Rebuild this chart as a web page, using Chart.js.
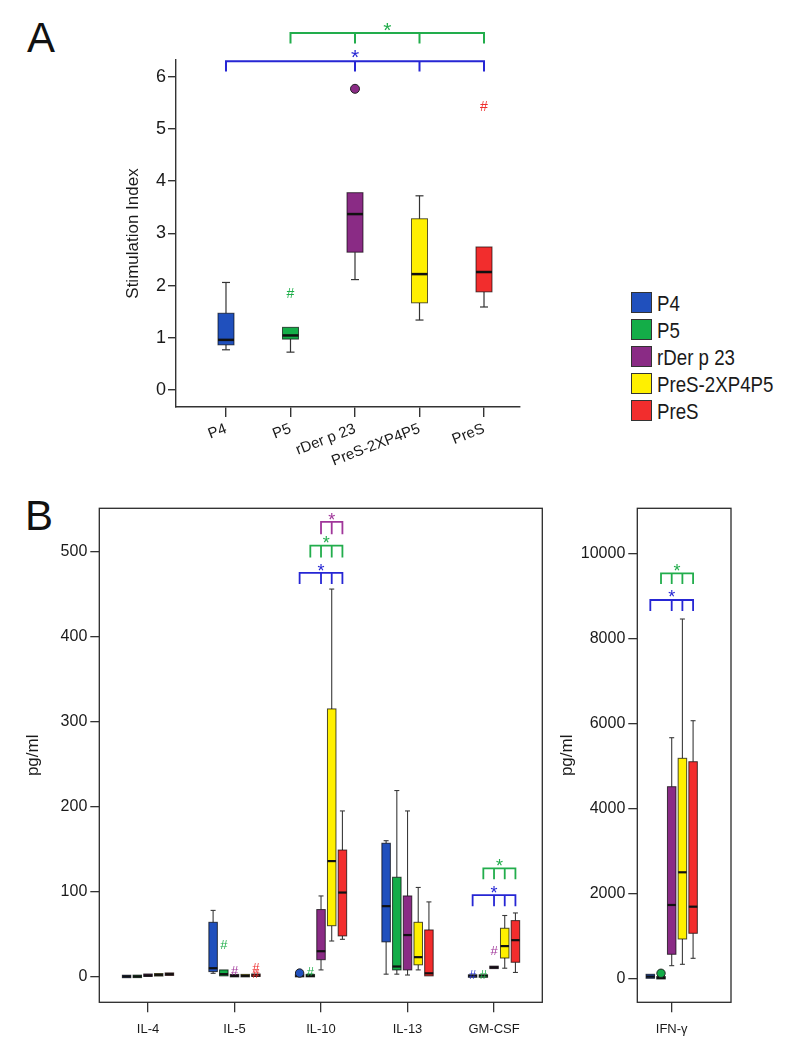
<!DOCTYPE html>
<html><head><meta charset="utf-8">
<script src="https://cdn.jsdelivr.net/npm/chart.js@4.4.1/dist/chart.umd.min.js"></script>
<style>
body{margin:0;background:#fff;width:787px;height:1050px;position:relative;overflow:hidden;font-family:'Liberation Sans',Arial,sans-serif;color:#1a1a1a}
canvas{position:absolute}
.lbl{position:absolute;font-size:42px;line-height:42px;color:#111}
.sw{position:absolute;width:19px;height:19px;border:1px solid #333}
.lt{position:absolute;font-size:22px;line-height:22px;transform:scaleX(0.85);transform-origin:0 0;white-space:nowrap;color:#1a1a1a}
</style></head><body>
<div class="lbl" style="left:27px;top:17px">A</div>
<div class="lbl" style="left:25px;top:495px">B</div>
<canvas id="cA" width="560" height="470" style="left:0;top:0"></canvas>
<canvas id="cB" width="550" height="570" style="left:0;top:480px"></canvas>
<canvas id="cC" width="237" height="570" style="left:550px;top:480px"></canvas>
<div id="legend"></div>
<script>
// ---------- DATA ----------
const series = ['P4', 'P5', 'rDer p 23', 'PreS-2XP4P5', 'PreS'];

// Panel A: Stimulation Index, one box per stimulus
const siMin = [0.77, 0.725, 2.115, 1.34, 1.59];
const siQ1  = [0.865, 0.975, 2.64, 1.67, 1.88];
const siMed = [0.96, 1.045, 3.37, 2.22, 2.26];
const siQ3  = [1.47, 1.2, 3.78, 3.28, 2.74];
const siMax = [2.06, 1.2, 3.78, 3.72, 2.74];
const siTicks = [0, 1, 2, 3, 4, 5, 6];
const siCircles = [{s: 2, v: 5.77}];
const siHashes = [{s: 1, v: 1.85}, {s: 4, v: 5.44}];
// significance brackets: sig = reference series, s = series joined
const siBrackets = [
  {sig: 0, s: [0, 2, 3, 4], y: 6.30, foot: 6.10, star: 6.475},
  {sig: 1, s: [1, 2, 3, 4], y: 6.84, foot: 6.64, star: 7.0}
];

// Panel B: cytokines, [min, q1, median, q3, max] per cytokine
const cytokines = ['IL-4', 'IL-5', 'IL-10', 'IL-13', 'GM-CSF'];
const cytoTicks = [0, 100, 200, 300, 400, 500];
const cytoP4     = [[0,0,0.3,0.6,0.6], [4,6,10,64,78], [0,0.5,1,2,2], [3,41,83,157,160], [0,0,1,1.5,2]];
const cytoP5     = [[0,0,0.3,0.8,0.8], [0,1,3,8,8], [0,0.5,1,2,2], [3,8,12,117,219], [0,0,1,1.5,2]];
const cytoRDer   = [[0.5,1,1.5,2.5,3], [0,0.5,1,2,2], [8,20,30,79,95], [2,8,49,95,195], [9,10,11,12,13]];
const cytoPreS2X = [[1,1.5,2.2,3,3.5], [0,0.5,1,2,2], [42,60,136,315,456], [8,14,23,64,105], [10,22,36,57,72]];
const cytoPreS   = [[1.5,2,3,4,5], [0,0.5,1.5,3,3], [44,48,99,149,195], [0,1,4,55,88], [5,17,43,66,75]];
const cytoCircles = [{g: 2, s: 0, v: 4.3}];
const cytoHashes = [
  {g: 1, s: 1, v: 38}, {g: 1, s: 2, v: 7}, {g: 1, s: 4, v: 11}, {g: 1, s: 4, v: 4},
  {g: 2, s: 1, v: 6}, {g: 4, s: 0, v: 3}, {g: 4, s: 1, v: 3}, {g: 4, s: 2, v: 31}
];
const cytoBrackets = [
  {g: 2, sig: 0, s: [0, 2, 3, 4], y: 475, foot: 462, star: 482},
  {g: 2, sig: 1, s: [1, 2, 3, 4], y: 507, foot: 493, star: 515},
  {g: 2, sig: 2, s: [2, 3, 4], y: 535, foot: 520.5, star: 542},
  {g: 4, sig: 1, s: [1, 2, 3, 4], y: 127.5, foot: 114.6, star: 136},
  {g: 4, sig: 0, s: [0, 2, 3, 4], y: 96, foot: 83, star: 104}
];

// Panel B right: IFN-gamma
const ifnLabels = ['IFN-γ'];
const ifnTicks = [0, 2000, 4000, 6000, 8000, 10000];
const ifnP4     = [[0,0,40,94,94]];
const ifnP5     = [[0,0,10,25,25]];
const ifnRDer   = [[297,565,1725,4508,5661]];
const ifnPreS2X = [[329,925,2494,5176,8454]];
const ifnPreS   = [[470,1059,1685,5096,6061]];
const ifnCircles = [{g: 0, s: 1, v: 118}];
const ifnHashes = [];
const ifnBrackets = [
  {g: 0, sig: 0, s: [0, 2, 3, 4], y: 8901, foot: 8642, star: 9073},
  {g: 0, sig: 1, s: [1, 2, 3, 4], y: 9529, foot: 9278, star: 9685}
];

// ---------- STYLE ----------
const boxColors  = ['#2050bd', '#14ad48', '#8a2b85', '#fff000', '#f22d2d'];
const markColors = ['#2a34d2', '#1fae4a', '#a0369a', '#d8c800', '#ee2e2e'];
const sigColors  = ['#2626d4', '#22ad4c', '#a0369a'];
const FONT = "'Liberation Sans', Arial, sans-serif";
Chart.defaults.font.family = FONT;
Chart.defaults.color = '#1a1a1a';

// legend
(function(){
  const L = document.getElementById('legend');
  series.forEach((name, i) => {
    const top = 292 + i * 27;
    const sw = document.createElement('div');
    sw.className = 'sw'; sw.style.left = '631px'; sw.style.top = top + 'px';
    sw.style.background = boxColors[i];
    L.appendChild(sw);
    const t = document.createElement('div');
    t.className = 'lt'; t.style.left = '657px'; t.style.top = (top + 0.5) + 'px';
    t.textContent = name;
    L.appendChild(t);
  });
})();

function makePlugin(cfg) {
  return {
    id: 'boxplot',
    beforeDatasetsDraw(chart) {
      const {ctx, scales: {x, y}} = chart;
      const seg = (a, b, c, d) => { ctx.beginPath(); ctx.moveTo(a, b); ctx.lineTo(c, d); ctx.stroke(); };
      chart.data.datasets.forEach(ds => {
        if (ds.kind !== 'box') return;
        ds.data.forEach(p => {
          const cx = x.getPixelForValue(p.x);
          const yMin = y.getPixelForValue(p.min), yQ1 = y.getPixelForValue(p.q1);
          const yMed = y.getPixelForValue(p.y), yQ3 = y.getPixelForValue(p.q3), yMax = y.getPixelForValue(p.max);
          ctx.save();
          ctx.strokeStyle = cfg.whisker; ctx.lineWidth = cfg.whiskerWidth;
          if (yMax < yQ3 - 1) { seg(cx, yMax, cx, yQ3); seg(cx - cfg.cap / 2, yMax, cx + cfg.cap / 2, yMax); }
          if (yMin > yQ1 + 1) { seg(cx, yQ1, cx, yMin); seg(cx - cfg.cap / 2, yMin, cx + cfg.cap / 2, yMin); }
          let top = yQ3, h = yQ1 - yQ3;
          if (h < cfg.minH) { const c = (yQ1 + yQ3) / 2; top = c - cfg.minH / 2; h = cfg.minH; }
          const w = cfg.boxWidth;
          ctx.fillStyle = ds.boxColor;
          ctx.fillRect(cx - w / 2, top, w, h);
          ctx.strokeStyle = cfg.edge; ctx.lineWidth = 1;
          ctx.strokeRect(cx - w / 2, top, w, h);
          ctx.strokeStyle = '#111'; ctx.lineWidth = cfg.medianWidth;
          seg(cx - w / 2, yMed, cx + w / 2, yMed);
          ctx.restore();
        });
      });
    },
    afterDatasetsDraw(chart) {
      const {ctx, scales: {x, y}, chartArea} = chart;
      ctx.save();
      // hash outliers
      chart.data.datasets.forEach(ds => {
        if (ds.kind !== 'hash') return;
        ctx.font = cfg.hashSize + 'px ' + FONT;
        ctx.textAlign = 'center'; ctx.textBaseline = 'alphabetic';
        ctx.fillStyle = ds.markColor;
        ds.data.forEach(p => ctx.fillText('#', x.getPixelForValue(p.x), y.getPixelForValue(p.y) + cfg.hashSize * 0.35));
      });
      // significance brackets
      cfg.brackets.forEach(b => {
        const xs = b.s.map(s => x.getPixelForValue(cfg.pos(b.g || 0, s)));
        const yl = y.getPixelForValue(b.y), yf = y.getPixelForValue(b.foot);
        const col = sigColors[b.sig];
        ctx.strokeStyle = col; ctx.lineWidth = cfg.bracketWidth; ctx.lineCap = 'butt';
        ctx.beginPath();
        ctx.moveTo(xs[0], yf); ctx.lineTo(xs[0], yl); ctx.lineTo(xs[xs.length - 1], yl); ctx.lineTo(xs[xs.length - 1], yf);
        for (let i = 1; i < xs.length - 1; i++) { ctx.moveTo(xs[i], yl); ctx.lineTo(xs[i], yf); }
        ctx.stroke();
        ctx.fillStyle = col;
        ctx.font = cfg.starSize + 'px ' + FONT;
        ctx.textAlign = 'center'; ctx.textBaseline = 'alphabetic';
        ctx.fillText('*', (xs[0] + xs[xs.length - 1]) / 2, y.getPixelForValue(b.star) + cfg.starSize * 0.58);
      });
      if (cfg.frame) {
        ctx.strokeStyle = '#2a2a2a'; ctx.lineWidth = 1.3;
        ctx.strokeRect(chartArea.left, chartArea.top, chartArea.right - chartArea.left, chartArea.bottom - chartArea.top);
      }
      ctx.restore();
    }
  };
}

function boxPoint(x, st) { return {x: x, y: st[2], min: st[0], q1: st[1], q3: st[3], max: st[4]}; }

const baseOpts = {
  responsive: false, animation: false, events: [],
  plugins: {legend: {display: false}, tooltip: {enabled: false}}
};

// ---------- PANEL A ----------
(function(){
  const pos = (g, s) => s + 1;
  const datasets = series.map((name, i) => ({
    label: name, kind: 'box', boxColor: boxColors[i], pointRadius: 0,
    data: [boxPoint(i + 1, [siMin[i], siQ1[i], siMed[i], siQ3[i], siMax[i]])]
  }));
  datasets.push({label: 'circles', kind: 'circle', data: siCircles.map(o => ({x: pos(0, o.s), y: o.v})),
    pointRadius: 4.5, pointBackgroundColor: siCircles.map(o => boxColors[o.s]), pointBorderColor: '#222', pointBorderWidth: 1});
  series.forEach((name, i) => {
    const h = siHashes.filter(o => o.s === i);
    if (h.length) datasets.push({label: 'hash ' + name, kind: 'hash', markColor: markColors[i], pointRadius: 0,
      data: h.map(o => ({x: pos(0, o.s), y: o.v}))});
  });
  new Chart(document.getElementById('cA'), {
    type: 'scatter',
    data: {datasets},
    options: Object.assign({}, baseOpts, {
      layout: {padding: {left: 123, top: 60, right: 40, bottom: 0}},
      scales: {
        x: {type: 'linear', min: 0.225, max: 5.558,
          afterBuildTicks: s => { s.ticks = series.map((_, i) => ({value: i + 1})); },
          afterFit: s => { s.height = 63; },
          grid: {drawOnChartArea: false, drawTicks: true, tickLength: 10, color: '#333', lineWidth: 1.4},
          border: {display: true, color: '#333', width: 1.4},
          ticks: {autoSkip: false, minRotation: 21, maxRotation: 21, padding: 3, color: '#1a1a1a', font: {size: 15},
            callback: (v, i) => series[i]}
        },
        y: {type: 'linear', min: -0.326, max: 6.322,
          afterBuildTicks: s => { s.ticks = siTicks.map(v => ({value: v})); },
          afterFit: s => { s.width = 53; },
          title: {display: true, text: 'Stimulation Index', font: {size: 17}, padding: 0, color: '#1a1a1a'},
          grid: {drawOnChartArea: false, drawTicks: true, tickLength: 8, color: '#333', lineWidth: 1.4},
          border: {display: true, color: '#333', width: 1.4},
          ticks: {padding: 2, color: '#1a1a1a', font: {size: 18}, callback: v => String(v)}
        }
      }
    }),
    plugins: [makePlugin({pos, boxWidth: 16, cap: 8, minH: 2, whisker: '#333', whiskerWidth: 1.2, edge: 'rgba(0,0,0,0.65)',
      medianWidth: 2.5, hashSize: 14, starSize: 21, bracketWidth: 2, brackets: siBrackets, frame: false})]
  });
})();

// ---------- PANEL B ----------
const OFF = 0.1237;
function cytoChart(id, cats, ticksArr, stats, circles, hashes, brackets, xr, yr, padL, yW, title) {
  const pos = (g, s) => g + (s - 2) * OFF;
  const datasets = series.map((name, si) => ({
    label: name, kind: 'box', boxColor: boxColors[si], pointRadius: 0,
    data: stats[si].map((st, g) => boxPoint(pos(g, si), st))
  }));
  if (circles.length) datasets.push({label: 'circles', kind: 'circle', data: circles.map(o => ({x: pos(o.g, o.s), y: o.v})),
    pointRadius: 4.2, pointBackgroundColor: circles.map(o => boxColors[o.s]), pointBorderColor: '#222', pointBorderWidth: 1});
  series.forEach((name, si) => {
    const h = hashes.filter(o => o.s === si);
    if (h.length) datasets.push({label: 'hash ' + name, kind: 'hash', markColor: markColors[si], pointRadius: 0,
      data: h.map(o => ({x: pos(o.g, o.s), y: o.v}))});
  });
  const canvas = document.getElementById(id);
  return new Chart(canvas, {
    type: 'scatter',
    data: {datasets},
    options: Object.assign({}, baseOpts, {
      layout: {padding: {left: padL, top: 28.3, right: canvas.width - xr.right, bottom: 0}},
      scales: {
        x: {type: 'linear', min: xr.min, max: xr.max,
          afterBuildTicks: s => { s.ticks = cats.map((_, i) => ({value: i})); },
          afterFit: s => { s.height = 570 - 522.3; },
          grid: {drawOnChartArea: false, drawTicks: true, tickLength: 10, color: '#333', lineWidth: 1.3},
          border: {display: false},
          ticks: {autoSkip: false, maxRotation: 0, minRotation: 0, padding: 9, color: '#1a1a1a', font: {size: 13},
            callback: (v, i) => cats[i]}
        },
        y: {type: 'linear', min: yr.min, max: yr.max,
          afterBuildTicks: s => { s.ticks = ticksArr.map(v => ({value: v})); },
          afterFit: s => { s.width = yW; },
          title: {display: true, text: title, font: {size: 17}, padding: 0, color: '#1a1a1a'},
          grid: {drawOnChartArea: false, drawTicks: true, tickLength: 9, color: '#333', lineWidth: 1.3},
          border: {display: false},
          ticks: {padding: 3, color: '#1a1a1a', font: {size: 16}, callback: v => String(v)}
        }
      }
    }),
    plugins: [makePlugin({pos, boxWidth: 8.5, cap: 5, minH: 2.5, whisker: '#3a3a3a', whiskerWidth: 1.1, edge: 'rgba(0,0,0,0.7)',
      medianWidth: 2.2, hashSize: 13, starSize: 18, bracketWidth: 1.8, brackets, frame: true})]
  });
}

cytoChart('cB', cytokines, cytoTicks, [cytoP4, cytoP5, cytoRDer, cytoPreS2X, cytoPreS],
  cytoCircles, cytoHashes, cytoBrackets,
  {min: -0.563, max: 4.558, right: 542.3}, {min: -30.1, max: 551}, 23.3, 76, 'pg/ml');

cytoChart('cC', ifnLabels, ifnTicks, [ifnP4, ifnP5, ifnRDer, ifnPreS2X, ifnPreS],
  ifnCircles, ifnHashes, ifnBrackets,
  {min: -0.398, max: 0.686, right: 181}, {min: -565, max: 11059}, 6.8, 80.5, 'pg/ml');
</script>
</body></html>
